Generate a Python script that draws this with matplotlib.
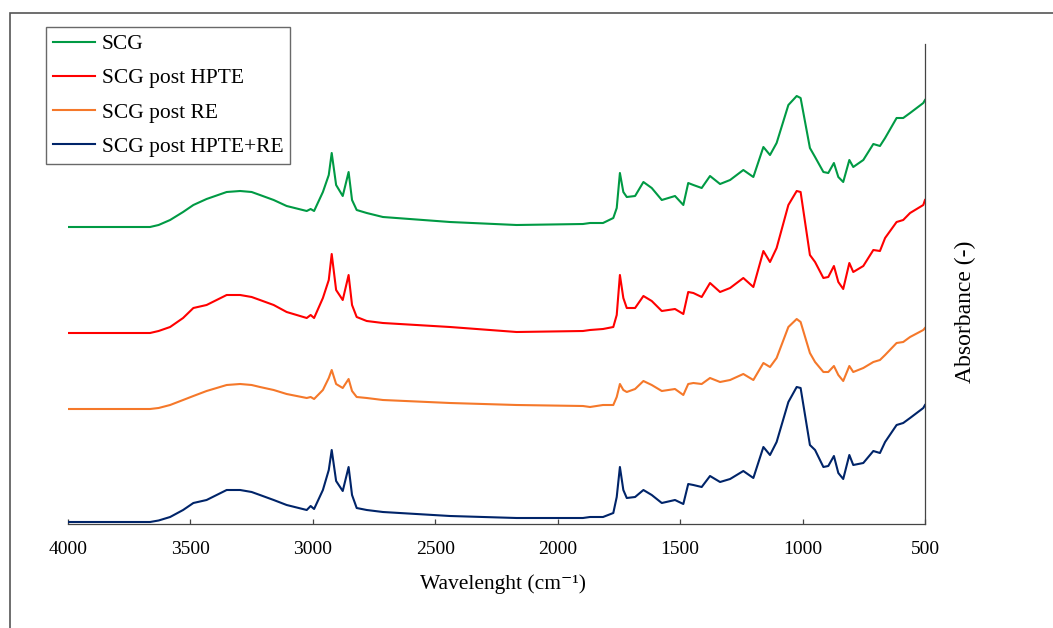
import matplotlib
matplotlib.use("Agg")
import matplotlib.pyplot as plt
from matplotlib.patches import Rectangle
import numpy as np

plt.rcParams["font.family"] = ["Liberation Serif", "DejaVu Serif"]

# FTIR spectra, stacked for display (arbitrary absorbance units)
wavenumber = [4000, 3665, 3630, 3583, 3530, 3488, 3434, 3352, 3297, 3250, 3216, 3160,
              3107, 3025, 3009, 2995, 2959, 2935, 2923, 2905, 2878, 2854, 2840,
              2821, 2780, 2714, 2440, 2168, 1897, 1868, 1815, 1773, 1759, 1746,
              1732, 1718, 1684, 1650, 1616, 1575, 1521, 1487, 1467, 1446, 1412,
              1378, 1337, 1296, 1242, 1201, 1160, 1133, 1106, 1058, 1024, 1008,
              970, 949, 915, 895, 872, 854, 834, 809, 793, 752, 711, 684, 663,
              616, 589, 561, 507, 500]

scg = [2.97, 2.97, 2.99, 3.04, 3.12, 3.19, 3.25, 3.32, 3.33, 3.32, 3.29, 3.24,
       3.18, 3.13, 3.15, 3.13, 3.32, 3.49, 3.71, 3.39, 3.28, 3.52, 3.24,
       3.14, 3.11, 3.07, 3.02, 2.99, 3.00, 3.01, 3.01, 3.06, 3.16, 3.51,
       3.32, 3.27, 3.28, 3.42, 3.36, 3.24, 3.28, 3.19, 3.41, 3.39, 3.36,
       3.48, 3.40, 3.44, 3.54, 3.47, 3.77, 3.69, 3.81, 4.19, 4.28, 4.26,
       3.76, 3.67, 3.52, 3.51, 3.61, 3.47, 3.42, 3.64, 3.57, 3.64, 3.80,
       3.78, 3.86, 4.06, 4.06, 4.11, 4.21, 4.24]

scg_hpte = [1.91, 1.91, 1.93, 1.97, 2.06, 2.16, 2.19, 2.29, 2.29, 2.27, 2.24, 2.19,
            2.12, 2.06, 2.09, 2.06, 2.26, 2.44, 2.70, 2.34, 2.24, 2.49, 2.19,
            2.07, 2.03, 2.01, 1.97, 1.92, 1.93, 1.94, 1.95, 1.97, 2.09, 2.49,
            2.26, 2.16, 2.16, 2.28, 2.23, 2.13, 2.15, 2.10, 2.32, 2.31, 2.27,
            2.41, 2.32, 2.36, 2.46, 2.37, 2.73, 2.62, 2.76, 3.19, 3.33, 3.32,
            2.69, 2.62, 2.46, 2.47, 2.58, 2.42, 2.35, 2.61, 2.52, 2.58, 2.74,
            2.73, 2.86, 3.02, 3.04, 3.11, 3.19, 3.24]

scg_re = [1.15, 1.15, 1.16, 1.19, 1.24, 1.28, 1.33, 1.39, 1.40, 1.39, 1.37, 1.34,
          1.30, 1.26, 1.27, 1.25, 1.34, 1.46, 1.54, 1.40, 1.36, 1.45, 1.33,
          1.27, 1.26, 1.24, 1.21, 1.19, 1.18, 1.17, 1.19, 1.19, 1.27, 1.40,
          1.34, 1.32, 1.35, 1.43, 1.39, 1.33, 1.35, 1.29, 1.40, 1.41, 1.40,
          1.46, 1.42, 1.44, 1.50, 1.44, 1.61, 1.57, 1.66, 1.97, 2.05, 2.02,
          1.71, 1.62, 1.52, 1.52, 1.58, 1.49, 1.43, 1.58, 1.52, 1.56, 1.62,
          1.64, 1.69, 1.81, 1.82, 1.87, 1.94, 1.96]

scg_hpte_re = [0.02, 0.02, 0.035, 0.07, 0.14, 0.21, 0.24, 0.34, 0.34, 0.32, 0.29, 0.24,
               0.19, 0.14, 0.18, 0.15, 0.34, 0.54, 0.74, 0.43, 0.33, 0.57, 0.29,
               0.16, 0.14, 0.12, 0.08, 0.06, 0.06, 0.07, 0.07, 0.11, 0.27, 0.57,
               0.34, 0.26, 0.27, 0.34, 0.29, 0.21, 0.24, 0.20, 0.40, 0.39, 0.37,
               0.48, 0.42, 0.45, 0.53, 0.46, 0.77, 0.69, 0.82, 1.22, 1.37, 1.36,
               0.79, 0.74, 0.57, 0.58, 0.68, 0.51, 0.45, 0.69, 0.59, 0.61, 0.73,
               0.71, 0.82, 0.99, 1.01, 1.06, 1.16, 1.19]

labels = ["SCG", "SCG post HPTE", "SCG post RE", "SCG post HPTE+RE"]
colors = ["#009a44", "#ff0000", "#f5782a", "#002469"]
xticks = [4000, 3500, 3000, 2500, 2000, 1500, 1000, 500]

fig = plt.figure(figsize=(10.53, 6.28), dpi=100)
ax = fig.add_axes([68 / 1053, 1 - 524 / 628, 857 / 1053, 480 / 628])

for series, label, color in zip([scg, scg_hpte, scg_re, scg_hpte_re], labels, colors):
    ax.plot(wavenumber, series, color=color, lw=1.5, label=label)

ax.set_xlim(4000, 500)
ax.set_ylim(0, 4.80)
ax.set_xticks(xticks)
ax.set_xticklabels([str(t) for t in xticks])
ax.set_yticks([])

for side in ("left", "top"):
    ax.spines[side].set_visible(False)
for side in ("right", "bottom"):
    ax.spines[side].set_color("#444444")
    ax.spines[side].set_linewidth(0.9)
ax.tick_params(axis="x", direction="in", length=3.5, width=0.9, color="#444444",
               labelsize=14, pad=12)

ax.set_xlabel("Wavelenght (cm\u207b\u00b9)", fontsize=15.5)
ax.xaxis.set_label_coords(0.508, -0.104)
ax.yaxis.set_label_position("right")
ax.set_ylabel("Absorbance (-)", fontsize=17)
ax.yaxis.set_label_coords(1.035, 0.442)

leg = ax.legend(loc="upper left", bbox_to_anchor=(46 / 1053, 1 - 27 / 628),
                bbox_transform=fig.transFigure, borderaxespad=0, fancybox=False,
                frameon=True, fontsize=15.5, handlelength=1.95, handletextpad=0.3,
                labelspacing=0.66, borderpad=0.33)
leg.get_frame().set_edgecolor("#444444")
leg.get_frame().set_linewidth(1.0)

# outer frame around the figure
fig.patches.append(Rectangle((10 / 1053, -0.05), 1.1, 1 - 13 / 628 + 0.05,
                             transform=fig.transFigure, fill=False,
                             edgecolor="#555555", lw=1.2))

fig.savefig("out.png", dpi=100)
